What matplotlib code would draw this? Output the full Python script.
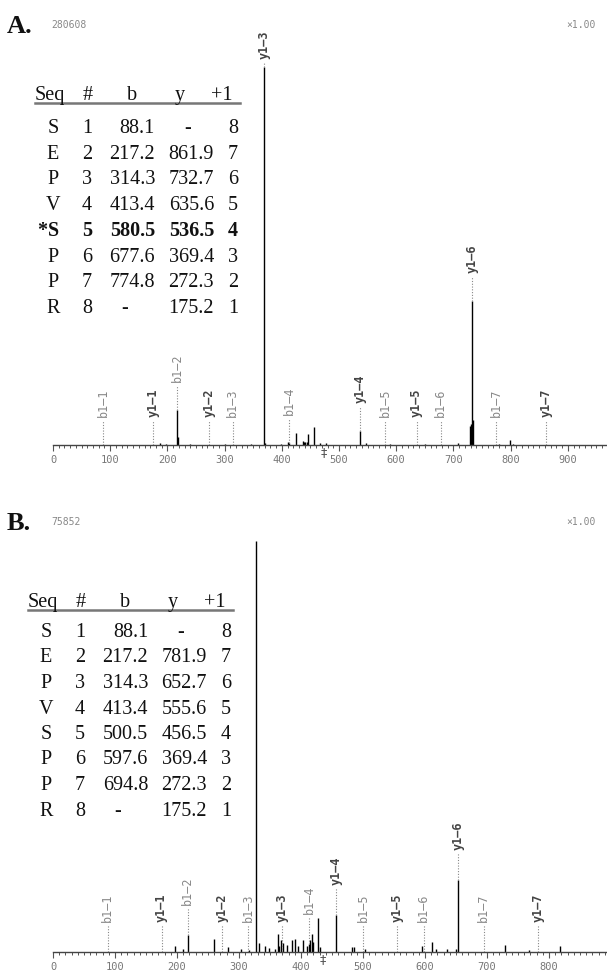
import matplotlib
matplotlib.use('Agg')
import matplotlib.pyplot as plt
from matplotlib.ticker import MultipleLocator
import numpy as np

W, H = 607, 975

# ---------------- Panel A data ----------------
a_id = "280608"
a_scale = "\u00d71.00"
a_seq = ["S", "E", "P", "V", "*S", "P", "P", "R"]
a_num = ["1", "2", "3", "4", "5", "6", "7", "8"]
a_b = ["88.1", "217.2", "314.3", "413.4", "580.5", "677.6", "774.8", "-"]
a_y = ["-", "861.9", "732.7", "635.6", "536.5", "369.4", "272.3", "175.2"]
a_rev = ["8", "7", "6", "5", "4", "3", "2", "1"]
a_bold_row = 4
a_peak_mz = [187, 198, 217.2, 218.6, 240, 300, 346, 369.4, 370.6, 398, 410.8,
             413.4, 424.3, 436.5, 438, 441, 443.5, 445.8, 455.8, 466, 478,
             536.5, 548, 590, 650, 708, 729.5, 731, 732.7, 734, 780, 799, 805]
a_peak_int = [0.6, 0.3, 9.3, 2.2, 0.3, 0.3, 0.3, 100, 0.6, 0.3, 0.9,
              0.6, 3.2, 1.0, 0.8, 0.8, 0.9, 3.0, 4.8, 0.6, 0.6,
              3.8, 0.6, 0.3, 0.3, 0.6, 5.0, 5.5, 38, 6.5, 0.3, 1.3, 0.3]
a_ion_names = ["b1\u20131", "y1\u20131", "b1\u20132", "y1\u20132", "b1\u20133",
               "y1\u20133", "b1\u20134", "y1\u20134", "b1\u20135", "y1\u20135",
               "b1\u20136", "y1\u20136", "b1\u20137", "y1\u20137"]
a_ion_mz = [88.1, 175.2, 217.2, 272.3, 314.3, 369.4, 413.4, 536.5, 580.5,
            635.6, 677.6, 732.7, 774.8, 861.9]
a_precursor = 474
a_xmax = 968.5
a_ticks = [0, 100, 200, 300, 400, 500, 600, 700, 800, 900]

# ---------------- Panel B data ----------------
b_id = "75852"
b_scale = "\u00d71.00"
b_seq = ["S", "E", "P", "V", "S", "P", "P", "R"]
b_num = ["1", "2", "3", "4", "5", "6", "7", "8"]
b_b = ["88.1", "217.2", "314.3", "413.4", "500.5", "597.6", "694.8", "-"]
b_y = ["-", "781.9", "652.7", "555.6", "456.5", "369.4", "272.3", "175.2"]
b_rev = ["8", "7", "6", "5", "4", "3", "2", "1"]
b_bold_row = None
b_peak_mz = [197, 210, 217.2, 260, 283, 304, 316, 327.4, 333, 342, 348, 358,
             363, 365, 367, 371, 377, 385, 390, 395, 403, 410, 413.4, 415,
             417, 419, 428, 431, 456.5, 483, 486, 503, 595, 612, 617, 636,
             650, 652.7, 729, 767, 818]
b_peak_int = [1.5, 0.7, 4.1, 3.2, 1.2, 0.8, 0.6, 100, 2.2, 1.5, 1.0, 0.8,
              4.4, 1.5, 2.9, 2.2, 1.7, 2.9, 3.2, 1.5, 2.9, 1.5, 2.0, 2.9,
              4.4, 2.4, 8.3, 1.2, 9.0, 1.2, 1.2, 0.7, 1.5, 2.4, 0.7, 0.7,
              0.7, 17.5, 1.7, 0.5, 1.5]
b_ion_names = a_ion_names
b_ion_mz = [88.1, 175.2, 217.2, 272.3, 314.3, 369.4, 413.4, 456.5, 500.5,
            555.6, 597.6, 652.7, 694.8, 781.9]
b_precursor = 435
b_xmax = 893.5
b_ticks = [0, 100, 200, 300, 400, 500, 600, 700, 800]

fig = plt.figure(figsize=(W / 100, H / 100), dpi=100)


def fx(x):
    return x / W


def fy(y):
    return 1 - y / H


SERIF = ["Liberation Serif", "DejaVu Serif"]
MONO = ["DejaVu Sans Mono"]


def draw_header(letter, ident, scale, ybase):
    fig.text(fx(7), fy(ybase), letter, family=SERIF, fontsize=19,
             fontweight='bold', ha='left', va='baseline', color='#111111')
    fig.text(fx(51), fy(ybase - 5), ident, family=MONO, fontsize=7,
             ha='left', va='baseline', color='#888888')
    fig.text(fx(596), fy(ybase - 5), scale, family=MONO, fontsize=7,
             ha='right', va='baseline', color='#888888')


def draw_table(dx, y_head, y_row1, pitch, seq, num, bv, yv, rev, bold_row):
    fs = 14.5
    col_seq = 53 + dx
    col_num = 87 + dx
    col_b_r = 155 + dx
    col_b_c = 125 + dx
    col_y_r = 214 + dx
    col_y_c = 188 + dx
    col_rev = 233 + dx
    hk = dict(family=SERIF, fontsize=fs, va='baseline', color='#111111')
    fig.text(fx(35 + dx), fy(y_head), "Seq", ha='left', **hk)
    fig.text(fx(88 + dx), fy(y_head), "#", ha='center', **hk)
    fig.text(fx(132 + dx), fy(y_head), "b", ha='center', **hk)
    fig.text(fx(180 + dx), fy(y_head), "y", ha='center', **hk)
    fig.text(fx(222 + dx), fy(y_head), "+1", ha='center', **hk)
    fig.add_artist(plt.Line2D([fx(35 + dx), fx(240 + dx)],
                              [fy(y_head + 2.5), fy(y_head + 2.5)],
                              color='#777777', lw=1.8,
                              transform=fig.transFigure))
    for i in range(len(seq)):
        yb = y_row1 + i * pitch
        wt = 'bold' if (bold_row is not None and i == bold_row) else 'normal'
        k = dict(family=SERIF, fontsize=fs, va='baseline', color='#111111',
                 fontweight=wt)
        s = seq[i]
        if s.startswith('*'):
            fig.text(fx(col_seq - 6), fy(yb), '*', ha='right', **k)
            s = s[1:]
        fig.text(fx(col_seq), fy(yb), s, ha='center', **k)
        fig.text(fx(col_num), fy(yb), num[i], ha='center', **k)
        if bv[i] == '-':
            fig.text(fx(col_b_c), fy(yb), '-', ha='center', **k)
        else:
            fig.text(fx(col_b_r), fy(yb), bv[i], ha='right', **k)
        if yv[i] == '-':
            fig.text(fx(col_y_c), fy(yb), '-', ha='center', **k)
        else:
            fig.text(fx(col_y_r), fy(yb), yv[i], ha='right', **k)
        fig.text(fx(col_rev), fy(yb), rev[i], ha='center', **k)


def draw_spectrum(y_base, y_top, xmax, ticks, pk_mz, pk_int, ion_names,
                  ion_mz, precursor, gap_px):
    ax = fig.add_axes([fx(53), fy(y_base), 1 - fx(53), (y_base - y_top) / H])
    ax.set_xlim(0, xmax)
    ax.set_ylim(0, 100)
    px_per_unit = (y_base - y_top) / 100.0
    for s in ['left', 'top', 'right']:
        ax.spines[s].set_visible(False)
    ax.spines['bottom'].set_color('#444444')
    ax.spines['bottom'].set_linewidth(1.0)
    ax.set_yticks([])
    ax.set_xticks(ticks)
    ax.xaxis.set_minor_locator(MultipleLocator(10))
    ax.tick_params(axis='x', which='major', length=4.5, width=0.8,
                   color='#555555', direction='out', pad=2.5,
                   labelsize=7.5, labelcolor='#777777')
    ax.tick_params(axis='x', which='minor', length=2.2, width=0.7,
                   color='#555555', direction='out')
    for lab in ax.get_xticklabels():
        lab.set_family(MONO)
    ax.vlines(pk_mz, 0, pk_int, color='black', lw=1.0, clip_on=False)
    pk_mz_a = np.array(pk_mz)
    pk_int_a = np.array(pk_int)
    gap = gap_px / px_per_unit
    pad = 3 / px_per_unit
    for name, mz in zip(ion_names, ion_mz):
        near = np.abs(pk_mz_a - mz) < 1.5
        match = pk_int_a[near].max() if near.any() else 0.0
        level = min(match + gap, 102.0)
        if level - pad > match:
            ax.plot([mz, mz], [match, level - pad], color='#888888',
                    lw=0.8, ls=(0, (1, 1.5)), clip_on=False)
        is_y = name.startswith('y')
        ax.text(mz, level, name, rotation=90, ha='center', va='bottom',
                family=MONO, fontsize=8.5,
                fontweight='bold' if is_y else 'normal',
                color='#444444' if is_y else '#888888', clip_on=False)
    ax.text(precursor, -0.3, "\u2021", ha='center', va='top', fontsize=9,
            color='#555555', family=['DejaVu Sans'], clip_on=False)
    ax.patch.set_alpha(0)
    return ax


draw_header("A.", a_id, a_scale, 33)
draw_table(0, 100, 133, 25.7, a_seq, a_num, a_b, a_y, a_rev, a_bold_row)
draw_spectrum(445, 67, a_xmax, a_ticks, a_peak_mz, a_peak_int, a_ion_names,
              a_ion_mz, a_precursor, 28)

draw_header("B.", b_id, b_scale, 530)
draw_table(-7, 607, 637, 25.5, b_seq, b_num, b_b, b_y, b_rev, b_bold_row)
draw_spectrum(952, 541, b_xmax, b_ticks, b_peak_mz, b_peak_int, b_ion_names,
              b_ion_mz, b_precursor, 30)

fig.savefig("out.png", dpi=100)
